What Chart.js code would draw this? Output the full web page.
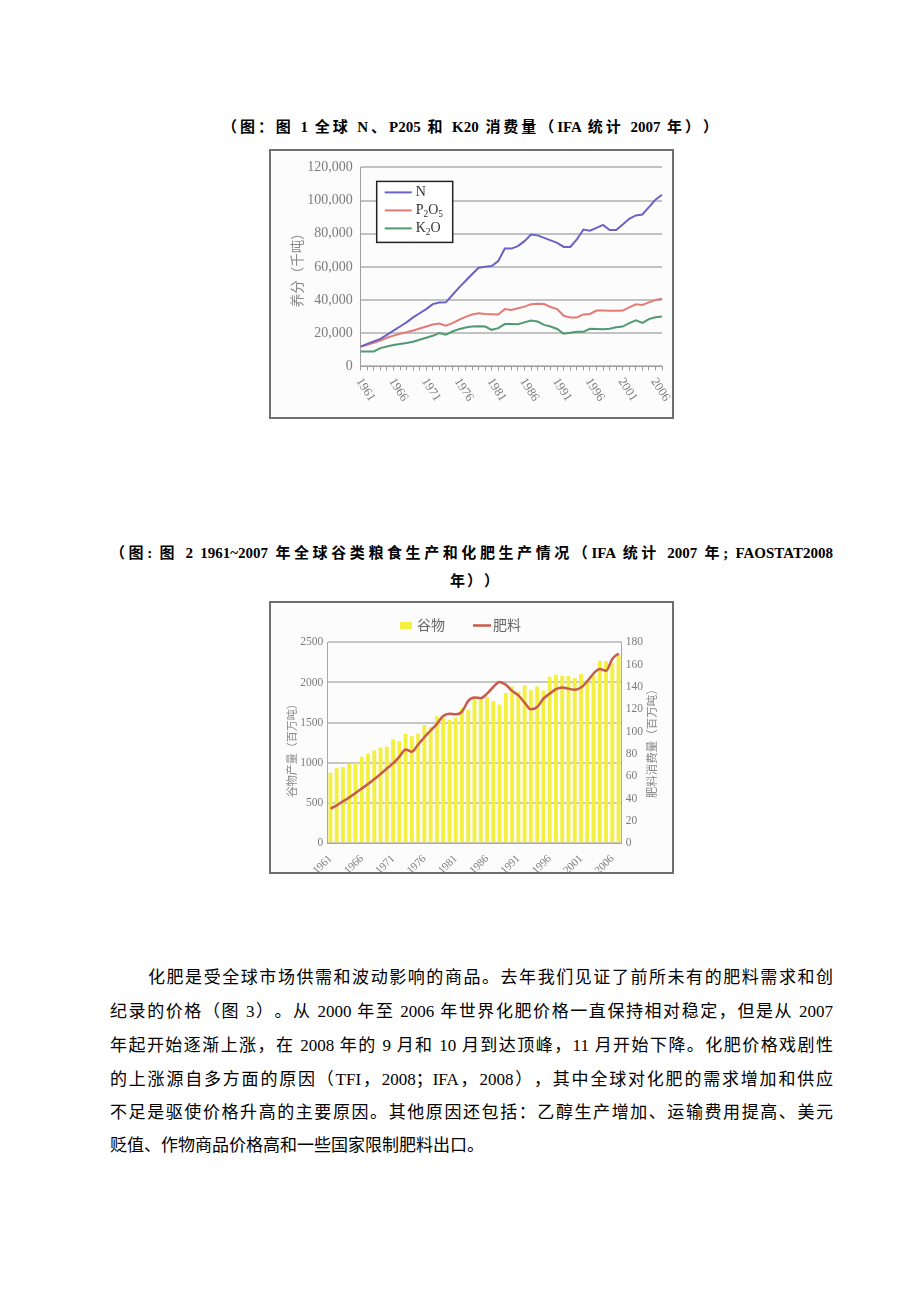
<!DOCTYPE html>
<html>
<head>
<meta charset="utf-8">
<script src="https://cdn.jsdelivr.net/npm/chart.js@4.4.1/dist/chart.umd.min.js"></script>
<style>
html, body { margin: 0; padding: 0; background: #fff; }
body { width: 920px; height: 1302px; position: relative; overflow: hidden;
       font-family: "Liberation Serif", "Noto Sans CJK SC", serif; color: #000;
       text-spacing-trim: space-all; }
.cap { position: absolute; font-weight: bold; font-size: 15px; line-height: 20px;
       text-align: justify; text-align-last: justify; }
.frame { position: absolute; border: 2px solid #6e6e6e; background: #fcfcfc; }
.frame canvas { display: block; }
.line { position: absolute; left: 110px; width: 723px; font-size: 17px; line-height: 20px;
        text-align: justify; text-align-last: justify; }
</style>
</head>
<body>

<div class="cap" style="left:222px; top:117px; width:496px;">（图：图 1 全球 N、P205 和 K20 消费量（IFA 统计 2007 年））</div>
<div class="frame" style="left:269px; top:149px; width:401px; height:266px;">
  <canvas id="chart1" width="401" height="266"></canvas>
</div>

<div class="cap" style="left:110px; top:543px; width:723px;">（图: 图 2 1961~2007 年全球谷类粮食生产和化肥生产情况（IFA 统计 2007 年; FAOSTAT2008</div>
<div class="cap" style="left:450px; top:571px; text-align-last:left; letter-spacing:2px;">年））</div>
<div class="frame" style="left:269px; top:601px; width:401px; height:269px;">
  <canvas id="chart2" width="401" height="269"></canvas>
</div>

<div class="line" style="top:968px; left:148px; width:685px;">化肥是受全球市场供需和波动影响的商品。去年我们见证了前所未有的肥料需求和创</div>
<div class="line" style="top:1002px;">纪录的价格（图 3）。从 2000 年至 2006 年世界化肥价格一直保持相对稳定，但是从 2007</div>
<div class="line" style="top:1036px;">年起开始逐渐上涨，在 2008 年的 9 月和 10 月到达顶峰，11 月开始下降。化肥价格戏剧性</div>
<div class="line" style="top:1070px;">的上涨源自多方面的原因（TFI，2008；IFA，2008），其中全球对化肥的需求增加和供应</div>
<div class="line" style="top:1103px;">不足是驱使价格升高的主要原因。其他原因还包括：乙醇生产增加、运输费用提高、美元</div>
<div class="line" style="top:1136px; text-align-last:left;">贬值、作物商品价格高和一些国家限制肥料出口。</div>

<script>
// years on both charts
var years = [1961, 1962, 1963, 1964, 1965, 1966, 1967, 1968, 1969, 1970,
             1971, 1972, 1973, 1974, 1975, 1976, 1977, 1978, 1979, 1980,
             1981, 1982, 1983, 1984, 1985, 1986, 1987, 1988, 1989, 1990,
             1991, 1992, 1993, 1994, 1995, 1996, 1997, 1998, 1999, 2000,
             2001, 2002, 2003, 2004, 2005, 2006, 2007];
var labeledYears = [1961, 1966, 1971, 1976, 1981, 1986, 1991, 1996, 2001, 2006];

// chart 1: nutrient consumption, thousand tonnes
var seriesNames1 = ['N', 'P2O5', 'K2O'];
var nitrogen = [11900, 13500, 15000, 16500, 19000, 21500, 24000, 26500, 29500, 32000,
                34500, 37500, 38500, 38600, 43000, 47500, 51500, 55500, 59500, 60000,
                60500, 63500, 71000, 71000, 72500, 75500, 79500, 79000, 77500, 76000,
                74500, 72000, 72000, 76500, 82500, 81800, 83500, 85300, 82200, 82200,
                85500, 89000, 91000, 91600, 96000, 100500, 103500];
var phosphate = [11900, 13000, 14200, 15500, 17200, 18500, 19600, 20500, 21600, 22800,
                 24000, 25200, 25800, 24500, 26000, 28000, 29800, 31200, 32000, 31600,
                 31400, 31200, 34500, 34000, 35000, 36000, 37500, 37800, 37600, 35800,
                 34500, 30500, 29400, 29500, 31300, 31600, 33600, 33600, 33500, 33500,
                 33600, 35500, 37400, 37000, 38600, 40000, 40800];
var potash = [8900, 8900, 9000, 11000, 12000, 12800, 13400, 14000, 14800, 16000,
              17200, 18400, 20000, 19000, 21000, 22400, 23400, 24000, 24200, 24000,
              22000, 23000, 25500, 25500, 25400, 26500, 27600, 27000, 25000, 24000,
              22500, 19600, 20200, 20800, 20800, 22600, 22500, 22400, 22600, 23500,
              24000, 26000, 27800, 26200, 28500, 29600, 30000];
var colors1 = ['#6a62c4', '#e57a74', '#4f9a70'];
var yTitle1 = '养分（千吨）';

// chart 2: cereal production (Mt) and fertilizer consumption (Mt)
var seriesNames2 = ['谷物', '肥料'];
var cereal = [877, 935, 950, 990, 1000, 1075, 1115, 1155, 1190, 1200,
              1295, 1270, 1360, 1330, 1365, 1470, 1445, 1580, 1555, 1535,
              1565, 1680, 1660, 1800, 1790, 1820, 1770, 1725, 1870, 1950,
              1885, 1965, 1905, 1950, 1900, 2070, 2095, 2085, 2080, 2055,
              2105, 2030, 2080, 2270, 2265, 2240, 2345];
var fertilizer = [31, 34, 37.5, 41, 45, 49, 53, 57.5, 62, 67,
                  71.5, 77.5, 84, 82, 88.5, 95, 101, 107, 114, 116,
                  115.5, 118, 127.5, 130.5, 130, 134, 140, 144.5, 142, 136.5,
                  132.5, 126, 120, 122, 129.5, 134, 138, 139.5, 138.5, 137.5,
                  139.5, 145, 152, 156, 154.5, 165, 170];
var yTitle2Left = '谷物产量（百万吨）';
var yTitle2Right = '肥料消费量（百万吨）';

var tickGray = '#7c7c7c';
var serif = '"Liberation Serif", serif';
var cjk = '"Noto Sans CJK SC", sans-serif';

function drawFormula(ctx, text, x, y, size) {
    var cx = x;
    for (var k = 0; k < text.length; k++) {
        var ch = text[k];
        var sub = /[0-9]/.test(ch);
        ctx.font = (sub ? size * 0.68 : size) + 'px ' + serif;
        ctx.fillText(ch, cx, sub ? y + size * 0.3 : y);
        cx += ctx.measureText(ch).width;
    }
}

function drawVertical(ctx, text, x, y, font, color) {
    ctx.save();
    ctx.translate(x, y);
    ctx.rotate(-Math.PI / 2);
    ctx.font = font;
    ctx.fillStyle = color;
    ctx.textAlign = 'center';
    ctx.textBaseline = 'middle';
    ctx.fillText(text, 0, 0);
    ctx.restore();
}

// chart 1 extras: slanted year labels, axis title, boxed legend
var chart1Extras = {
    id: 'chart1Extras',
    afterDraw: function (chart) {
        var ctx = chart.ctx;
        var x = chart.scales.x;
        var area = chart.chartArea;
        ctx.save();
        ctx.fillStyle = tickGray;
        ctx.font = '12.5px ' + serif;
        ctx.textAlign = 'left';
        ctx.textBaseline = 'middle';
        labeledYears.forEach(function (yr) {
            var px = x.getPixelForValue(years.indexOf(yr));
            ctx.save();
            ctx.translate(px - 2, x.top + 13);
            ctx.rotate(57 * Math.PI / 180);
            ctx.fillText(String(yr), 0, 0);
            ctx.restore();
        });
        ctx.restore();

        drawVertical(ctx, yTitle1, 26, (area.top + area.bottom) / 2 + 0, '13.5px ' + cjk, '#8a8a8a');

        // legend box
        var bx = area.left + 16, by = area.top + 14, bw = 76, bh = 61;
        ctx.save();
        ctx.fillStyle = '#fff';
        ctx.fillRect(bx, by, bw, bh);
        ctx.strokeStyle = '#222';
        ctx.lineWidth = 1.5;
        ctx.strokeRect(bx, by, bw, bh);
        chart.data.datasets.forEach(function (ds, k) {
            var ry = by + 11 + k * 18;
            ctx.strokeStyle = ds.borderColor;
            ctx.lineWidth = 2;
            ctx.beginPath();
            ctx.moveTo(bx + 8, ry);
            ctx.lineTo(bx + 35, ry);
            ctx.stroke();
            ctx.fillStyle = '#333';
            ctx.textAlign = 'left';
            ctx.textBaseline = 'middle';
            drawFormula(ctx, ds.label, bx + 39, ry, 14);
        });
        ctx.restore();
    }
};

new Chart(document.getElementById('chart1'), {
    type: 'line',
    data: {
        labels: years,
        datasets: [
            { label: seriesNames1[0], data: nitrogen, borderColor: colors1[0] },
            { label: seriesNames1[1], data: phosphate, borderColor: colors1[1] },
            { label: seriesNames1[2], data: potash, borderColor: colors1[2] }
        ]
    },
    options: {
        responsive: false,
        animation: false,
        devicePixelRatio: 1,
        elements: { line: { borderWidth: 2, tension: 0 }, point: { radius: 0 } },
        layout: { padding: { top: 15.5, right: 10, left: 0, bottom: 0 } },
        plugins: { legend: { display: false }, tooltip: { enabled: false } },
        scales: {
            x: {
                ticks: { display: false },
                grid: { display: true, drawOnChartArea: false, drawTicks: true, tickLength: 4, color: '#9a9a9a' },
                border: { display: true, color: '#a0a0a0' },
                afterFit: function (s) { s.height = 50.7; }
            },
            y: {
                min: 0, max: 120000,
                ticks: {
                    stepSize: 20000, padding: 8, color: tickGray,
                    font: { family: serif, size: 14 },
                    callback: function (v) { return v.toLocaleString('en-US'); }
                },
                grid: { color: '#c2c2c2', lineWidth: 2, drawTicks: false },
                border: { display: true, color: '#a0a0a0' },
                afterFit: function (s) { s.width = 89.7; }
            }
        }
    },
    plugins: [chart1Extras]
});

// chart 2 extras: legend on top, two axis titles
var chart2Extras = {
    id: 'chart2Extras',
    afterDraw: function (chart) {
        var ctx = chart.ctx;
        var area = chart.chartArea;
        var bar = chart.data.datasets[1];
        var line = chart.data.datasets[0];
        ctx.save();
        ctx.fillStyle = bar.backgroundColor;
        ctx.fillRect(129, 19, 12, 7);
        ctx.strokeStyle = line.borderColor;
        ctx.lineWidth = 2.5;
        ctx.beginPath();
        ctx.moveTo(202, 22.5);
        ctx.lineTo(220, 22.5);
        ctx.stroke();
        ctx.fillStyle = '#666';
        ctx.font = '14px ' + cjk;
        ctx.textAlign = 'left';
        ctx.textBaseline = 'middle';
        ctx.fillText(bar.label, 146, 22);
        ctx.fillText(line.label, 222, 22);
        ctx.restore();

        var cy = (area.top + area.bottom) / 2;
        drawVertical(ctx, yTitle2Left, 21, cy + 5, '11px ' + cjk, '#8a8a8a');
        drawVertical(ctx, yTitle2Right, 381, cy - 2, '11.5px ' + cjk, '#8a8a8a');
    }
};

new Chart(document.getElementById('chart2'), {
    type: 'bar',
    data: {
        labels: years,
        datasets: [
            { type: 'line', label: seriesNames2[1], data: fertilizer, yAxisID: 'y1',
              borderColor: '#c95a4a', borderWidth: 2.5, pointRadius: 0,
              cubicInterpolationMode: 'monotone', order: 0 },
            { type: 'bar', label: seriesNames2[0], data: cereal, yAxisID: 'y',
              backgroundColor: '#f4f040', barPercentage: 0.62, categoryPercentage: 1, order: 1 }
        ]
    },
    options: {
        responsive: false,
        animation: false,
        devicePixelRatio: 1,
        layout: { padding: { top: 39.3, right: 0, left: 0, bottom: 0 } },
        plugins: { legend: { display: false }, tooltip: { enabled: false } },
        scales: {
            x: {
                offset: true,
                grid: { display: false },
                border: { display: true, color: '#a8a8a8' },
                ticks: {
                    autoSkip: false, minRotation: 45, maxRotation: 45, padding: 1,
                    color: tickGray, font: { family: serif, size: 11 },
                    callback: function (v, i) { return labeledYears.indexOf(years[i]) >= 0 ? String(years[i]) : ''; }
                },
                afterFit: function (s) { s.height = 28.7; }
            },
            y: {
                position: 'left', min: 0, max: 2500,
                ticks: {
                    stepSize: 500, padding: 4, color: tickGray,
                    font: { family: serif, size: 11.5 },
                    callback: function (v) { return String(v); }
                },
                grid: { color: '#c6c6c6', lineWidth: 2, drawTicks: false },
                border: { display: true, color: '#a8a8a8' },
                afterFit: function (s) { s.width = 56.3; }
            },
            y1: {
                position: 'right', min: 0, max: 180,
                ticks: {
                    stepSize: 20, padding: 4, color: tickGray,
                    font: { family: serif, size: 11.5 },
                    callback: function (v) { return String(v); }
                },
                grid: { drawOnChartArea: false, drawTicks: false },
                border: { display: true, color: '#a8a8a8' },
                afterFit: function (s) { s.width = 50.3; }
            }
        }
    },
    plugins: [chart2Extras]
});
</script>
</body>
</html>
